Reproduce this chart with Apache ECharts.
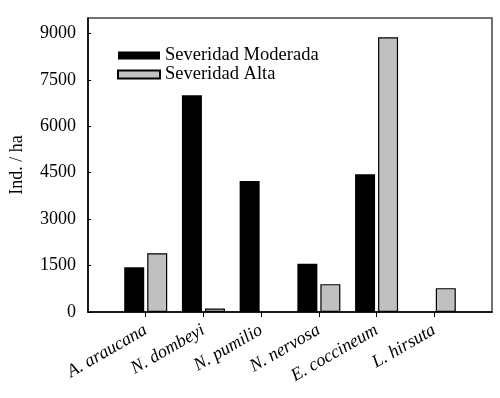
<!DOCTYPE html>
<html>
<head>
<meta charset="utf-8">
<script src="https://cdn.jsdelivr.net/npm/echarts@6/dist/echarts.min.js"></script>
<style>
  html, body { margin: 0; padding: 0; background: #fff; }
  #chart { width: 500px; height: 398px; }
</style>
</head>
<body>
<div id="chart"></div>
<script>
// species on the x axis
const species = ['A. araucana', 'N. dombeyi', 'N. pumilio', 'N. nervosa', 'E. coccineum', 'L. hirsuta'];
// Ind. / ha (0 = no bar)
const moderada = [1450, 7000, 4230, 1560, 4450, 0];
const alta = [1900, 110, 0, 900, 8880, 770];
const yTicks = [0, 1500, 3000, 4500, 6000, 7500, 9000];

const serif = 'Liberation Serif';

// empty slot at each end so the species sit on ticks inside the box
const axisCats = [''].concat(species, ['']);
const pad = (arr) => [null].concat(arr.map(v => (v === 0 ? '-' : v)), [null]);

const chart = echarts.init(document.getElementById('chart'));
chart.setOption({
  animation: false,
  textStyle: { fontFamily: serif, color: '#000' },
  grid: {
    left: 84, right: 8, top: 18, bottom: 86,
    show: true, borderColor: '#444', borderWidth: 1.5
  },
  legend: {
    orient: 'vertical',
    left: 117, top: 46,
    padding: 0,
    icon: 'rect',
    itemWidth: 42, itemHeight: 8, itemGap: 0, itemTextGap: 10,
    textStyle: { fontFamily: serif, fontSize: 18.5, color: '#000', lineHeight: 17 },
    data: ['Severidad Moderada', 'Severidad Alta']
  },
  xAxis: {
    type: 'category',
    data: axisCats,
    boundaryGap: false,
    axisLine: { lineStyle: { color: '#000', width: 1.5 } },
    axisTick: {
      show: true, length: 5,
      interval: (i) => i > 0 && i < axisCats.length - 1,
      lineStyle: { color: '#000' }
    },
    axisLabel: {
      interval: 0, rotate: 30, margin: 17,
      fontFamily: serif, fontSize: 18, fontStyle: 'italic', color: '#000'
    },
    splitLine: { show: false }
  },
  yAxis: {
    type: 'value',
    min: yTicks[0], max: 9500, interval: 1500,
    name: 'Ind. / ha',
    nameLocation: 'middle',
    nameGap: 62,
    nameTextStyle: { fontFamily: serif, fontSize: 18, color: '#000' },
    axisLine: { show: true, lineStyle: { color: '#000', width: 1.5 } },
    axisTick: { show: true, inside: true, length: 3, lineStyle: { color: '#000' } },
    axisLabel: {
      showMaxLabel: false, fontFamily: serif, fontSize: 18, color: '#000', margin: 12,
      formatter: (v) => String(v)
    },
    splitLine: { show: false }
  },
  series: [
    {
      name: 'Severidad Moderada',
      type: 'bar',
      barWidth: 20,
      barGap: '15%',
      itemStyle: { color: '#000' },
      data: pad(moderada)
    },
    {
      name: 'Severidad Alta',
      type: 'bar',
      barWidth: 20,
      itemStyle: { color: '#c0c0c0', borderColor: '#000', borderWidth: 1.2 },
      data: pad(alta)
    }
  ]
});
</script>
</body>
</html>
